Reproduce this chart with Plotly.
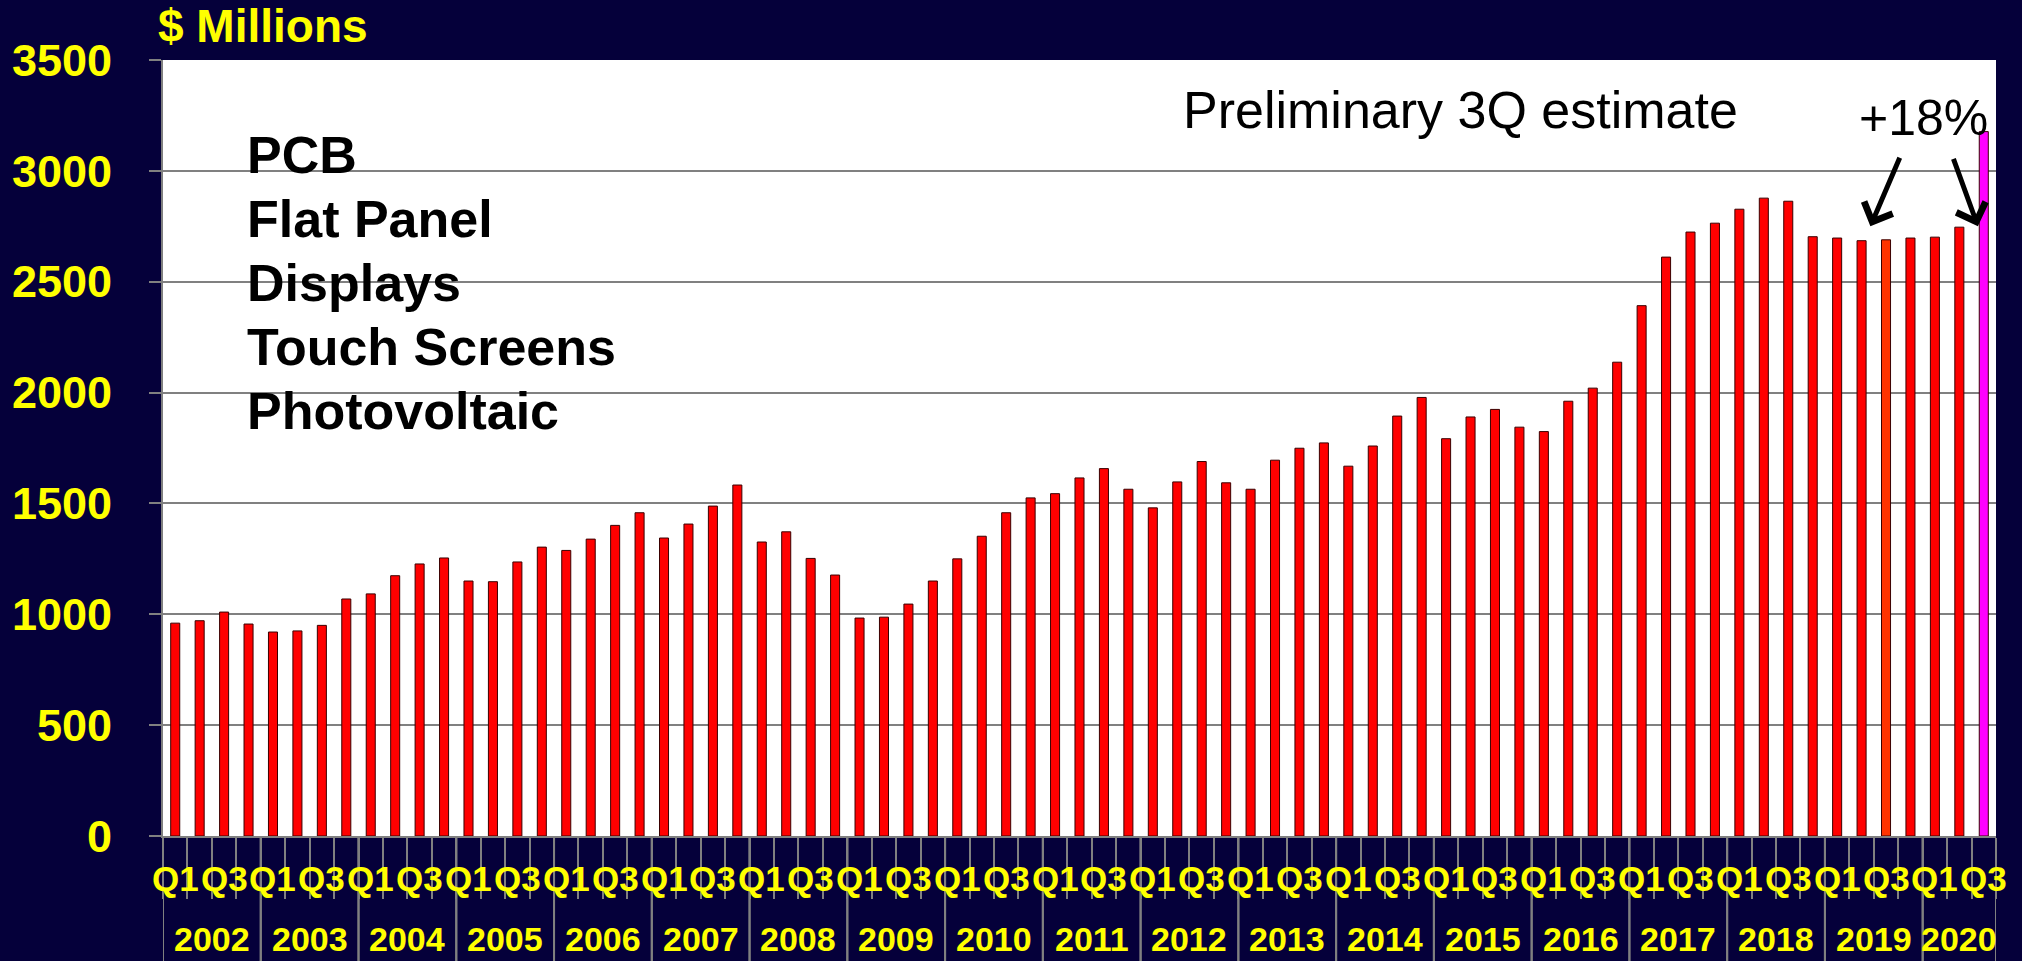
import plotly.graph_objects as go

# ---- data ----
years = [str(y) for y in range(2002, 2021)]
quarters = ["Q1", "Q2", "Q3", "Q4"]
values_2002_2010 = [960, 971, 1010, 956,
                    920, 925, 950, 1069,
                    1092, 1174, 1227, 1254,
                    1150, 1147, 1236, 1303,
                    1288, 1339, 1401, 1458,
                    1344, 1407, 1488, 1583,
                    1326, 1372, 1252, 1177,
                    983, 987, 1046, 1150,
                    1250, 1352, 1458, 1525]
values_2011_2020 = [1544, 1615, 1657, 1564,
                    1480, 1597, 1689, 1593,
                    1564, 1695, 1749, 1773,
                    1668, 1759, 1894, 1978,
                    1792, 1890, 1924, 1844,
                    1824, 1961, 2020, 2137,
                    2392, 2611, 2724, 2764,
                    2827, 2877, 2863, 2703,
                    2697, 2685, 2689, 2697,
                    2701, 2746, 3177]
values = values_2002_2010 + values_2011_2020
periods = [(y, q) for y in years for q in quarters][:len(values)]
q_tick_labels = ["Q1", "Q3"]
highlight = {("2019", "Q3"): "#FF3300", ("2020", "Q3"): "#FF00FF"}
text_lines = ["PCB", "Flat Panel", "Displays", "Touch Screens", "Photovoltaic"]
arrow_targets = [("2019", "Q3"), ("2020", "Q3")]

# ---- styling ----
NAVY = "#05003A"
YELLOW = "#FFFF00"
GRID = "#808080"
FONT = "Arial, Liberation Sans, sans-serif"
W, H = 2022, 961
ML, MR, MT, MB = 155, 26, 60, 125
plot_h = H - MT - MB
plot_w = W - ML - MR

x_idx = list(range(len(values)))
colors = [highlight.get(p, "#FF0000") for p in periods]

fig = go.Figure()
fig.add_trace(go.Bar(
    x=x_idx, y=values,
    marker=dict(color=colors, line=dict(color="#3A0000", width=1)),
    hoverinfo="y", showlegend=False,
))

def py(px_from_top):
    return (H - MB - px_from_top) / plot_h

def pxp(px_from_left):
    return (px_from_left - ML) / plot_w

annotations = []
# quarter labels
for i, (yr, q) in enumerate(periods):
    if q in q_tick_labels:
        annotations.append(dict(x=i, y=py(878), xref="x", yref="paper", text=q,
                                showarrow=False, xanchor="center", yanchor="middle",
                                font=dict(family=FONT, size=35, color=YELLOW, weight="bold")))
# year labels + separators
shapes = []
for yr in years:
    idxs = [i for i, p in enumerate(periods) if p[0] == yr]
    annotations.append(dict(x=(idxs[0] + idxs[-1]) / 2, y=py(939), xref="x", yref="paper",
                            text=yr, showarrow=False, xanchor="center", yanchor="middle",
                            font=dict(family=FONT, size=34, color=YELLOW, weight="bold")))
    for b in (idxs[0] - 0.5, idxs[-1] + 0.5):
        shapes.append(dict(type="line", xref="x", yref="paper", x0=b, x1=b,
                           y0=0, y1=py(H), line=dict(color=GRID, width=2)))

# texts
annotations.append(dict(x=pxp(148), y=py(26), xref="paper", yref="paper",
                        text="$ Millions", showarrow=False, xanchor="left", yanchor="middle",
                        font=dict(family=FONT, size=46, color=YELLOW, weight="bold")))
for k, line in enumerate(text_lines):
    annotations.append(dict(x=pxp(237), y=py(155 + 64 * k), xref="paper", yref="paper",
                            text=line, showarrow=False, xanchor="left", yanchor="middle",
                            font=dict(family=FONT, size=52, color="black", weight="bold")))
annotations.append(dict(x=pxp(1177), y=py(110), xref="paper", yref="paper",
                        text="Preliminary 3Q estimate", showarrow=False, xanchor="left",
                        yanchor="middle", font=dict(family=FONT, size=52, color="black")))
annotations.append(dict(x=pxp(1923), y=py(118), xref="paper", yref="paper",
                        text="+18%", showarrow=False, xanchor="center",
                        yanchor="middle", font=dict(family=FONT, size=50, color="black")))
# arrows
arrow_geo = [(-0.64, 30, -70), (-0.24, -25, -69)]
for tgt, (dx, ax, ay) in zip(arrow_targets, arrow_geo):
    i = periods.index(tgt)
    annotations.append(dict(x=i + dx, y=2750, xref="x", yref="y", text="",
                            showarrow=True, arrowhead=4, arrowsize=1.2, arrowwidth=5,
                            arrowcolor="black", ax=ax, ay=ay, standoff=0))

fig.update_layout(
    width=W, height=H,
    margin=dict(l=ML, r=MR, t=MT, b=MB),
    paper_bgcolor=NAVY, plot_bgcolor="white",
    bargap=0.63,
    annotations=annotations, shapes=shapes,
    xaxis=dict(range=[-0.5, len(values) - 0.5], showgrid=False, zeroline=False,
               showline=True, linecolor=GRID, linewidth=2,
               showticklabels=False, ticks="",
               minor=dict(tickmode="array",
                          tickvals=[i - 0.5 for i in range(len(values) + 1)],
                          ticks="outside", ticklen=61, tickwidth=2, tickcolor=GRID)),
    yaxis=dict(range=[0, 3500], tickvals=list(range(0, 3501, 500)),
               showgrid=True, gridcolor=GRID, gridwidth=2, zeroline=False,
               showline=True, linecolor=GRID, linewidth=2,
               ticks="outside", ticklen=12, tickwidth=2, tickcolor=GRID,
               ticklabelstandoff=28,
               tickfont=dict(family=FONT, size=45, color=YELLOW, weight="bold")),
)

fig.write_html("out.html", config={"displayModeBar": False},
               post_script="document.body.style.margin='0';document.body.style.overflow='hidden';")
